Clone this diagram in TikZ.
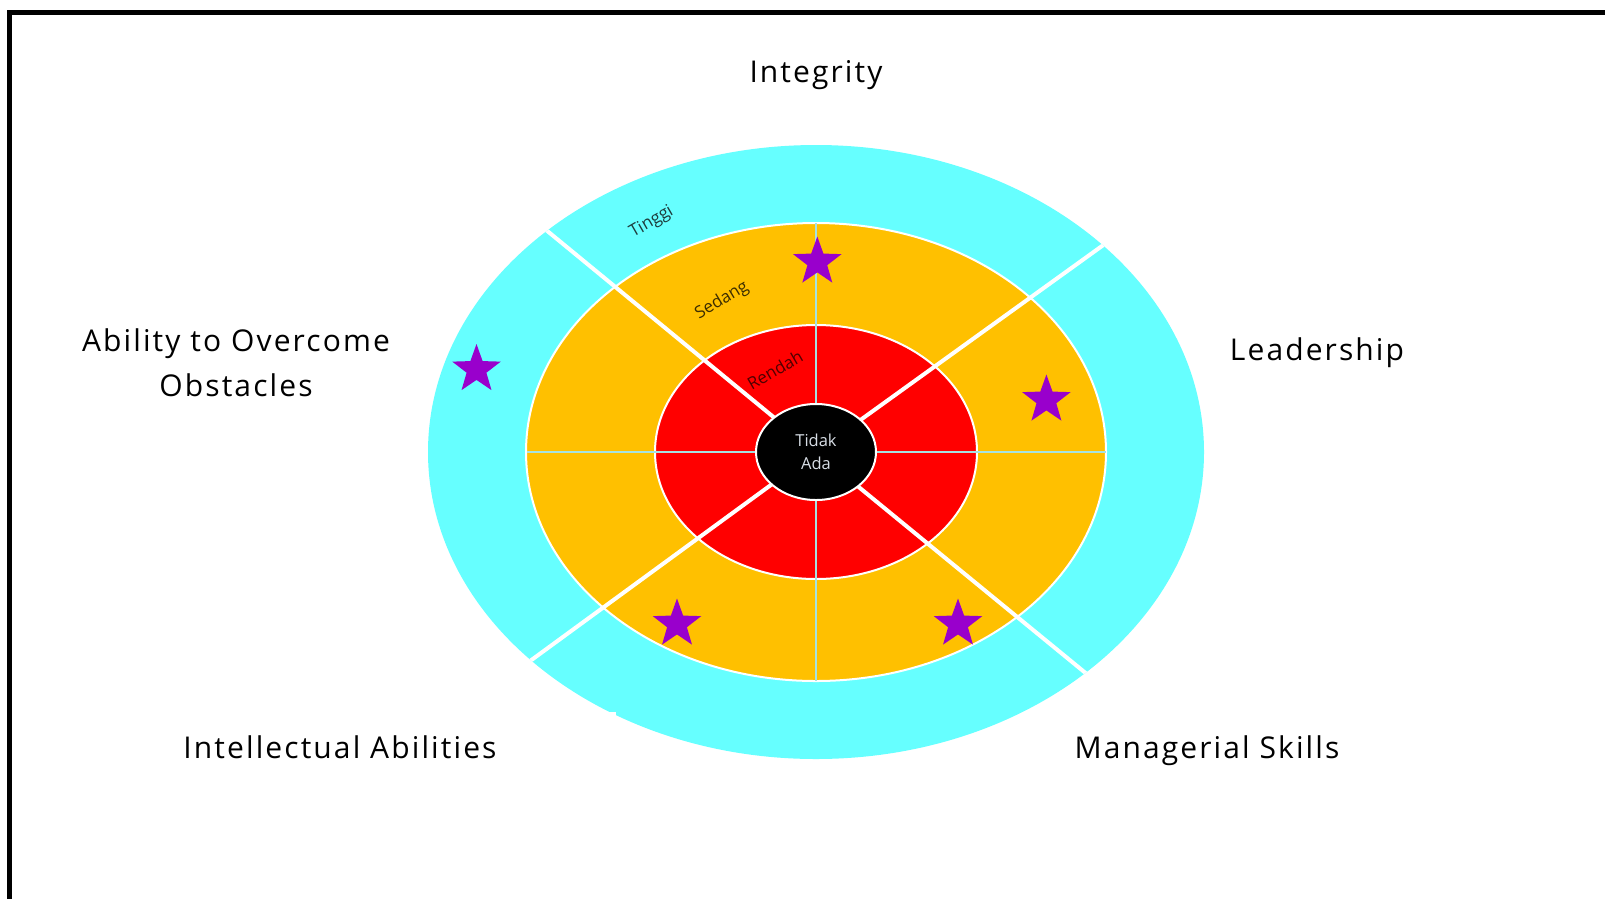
\documentclass[tikz,border=0pt]{standalone}
\usepackage{fontspec}
\setmainfont{Open Sans}
\newfontfamily\labelfont{Open Sans}[LetterSpace=7]
\usetikzlibrary{shapes.geometric}
\definecolor{ringcyan}{HTML}{66FFFF}
\definecolor{ringorange}{HTML}{FFC000}
\definecolor{ringred}{HTML}{FF0000}
\definecolor{starpurple}{HTML}{9900CC}
\definecolor{axisline}{HTML}{A6E3E3}
\definecolor{coretext}{HTML}{D8DEE6}
\tikzset{
  biglabel/.style={font=\labelfont\fontsize{30}{45}\selectfont, align=center, inner sep=0pt},
  ringlabel/.style={font=\fontsize{17}{19}\selectfont, inner sep=0pt},
  staricon/.style={star, star points=5, star point ratio=2.45, fill=starpurple, minimum size=51pt, inner sep=0pt, draw=none},
  divider/.style={white, line width=4pt},
  axis/.style={axisline, line width=2pt},
}
\begin{document}
\begin{tikzpicture}[x=1pt,y=-1pt]
\useasboundingbox (0,0) rectangle (1605,898);
\fill[white] (0,0) rectangle (1605,898);
% frame
\draw[line width=5pt] (9.5,910) -- (9.5,12) -- (1615,12);

\coordinate (C) at (816,452);
% rings
\fill[ringcyan] (C) ellipse [x radius=388pt, y radius=307pt];
\fill[white] (590,711.7) rectangle (616,735);
\filldraw[fill=ringorange, draw=white, line width=2pt] (C) ellipse [x radius=290pt, y radius=229pt];
\filldraw[fill=ringred, draw=white, line width=2pt] (C) ellipse [x radius=161pt, y radius=127pt];

% axis lines
\coordinate (vt) at (816,223);
\coordinate (vb) at (816,681);
\coordinate (hl) at (527,452);
\coordinate (hr) at (1106,452);
\draw[axis] (vt) -- (vb);
\draw[axis] (hl) -- (hr);

% diagonal dividers
\coordinate (dTL) at (520.8,209.2);
\coordinate (dTR) at (1131.0,225.1);
\coordinate (dBR) at (1111.9,694.6);
\coordinate (dBL) at (502.7,681.0);
\begin{scope}
\clip (C) ellipse [x radius=388pt, y radius=307pt];
\draw[divider] (C) -- (dTL);
\draw[divider] (C) -- (dTR);
\draw[divider] (C) -- (dBR);
\draw[divider] (C) -- (dBL);
\end{scope}

% core
\node[ellipse, fill=black, draw=white, line width=2pt, minimum width=120pt, minimum height=96pt, inner sep=0pt,
      text=coretext, font=\fontsize{16.5}{23.5}\selectfont, align=center] (core) at (C) {Tidak\\Ada};

% ring labels
\node[ringlabel, text={rgb,255:red,30;green,60;blue,60}, rotate=30] (tinggi) at (651.7,222.3) {Tinggi};
\node[ringlabel, text={rgb,255:red,60;green,45;blue,0}, rotate=31] (sedang) at (722,300.7) {Sedang};
\node[ringlabel, text={rgb,255:red,80;green,0;blue,0}, rotate=30] (rendah) at (775,370) {Rendah};

% stars
\node[staricon] (s1) at (817.3,262) {};
\node[staricon] (s2) at (1046.4,400) {};
\node[staricon] (s3) at (476.5,369.5) {};
\node[staricon] (s4) at (677,624) {};
\node[staricon] (s5) at (958,624) {};

% outer labels
\node[biglabel] (integrity) at (816,75) {Integrity};
\node[biglabel] (leadership) at (1317,353) {Leadership};
\node[biglabel] (ability) at (236,363) {Ability to Overcome\\Obstacles};
\node[biglabel] (intellect) at (340,747) {Intellectual Abilities};
\node[biglabel] (managerial) at (1207,751) {Managerial Skills};
\end{tikzpicture}
\end{document}
